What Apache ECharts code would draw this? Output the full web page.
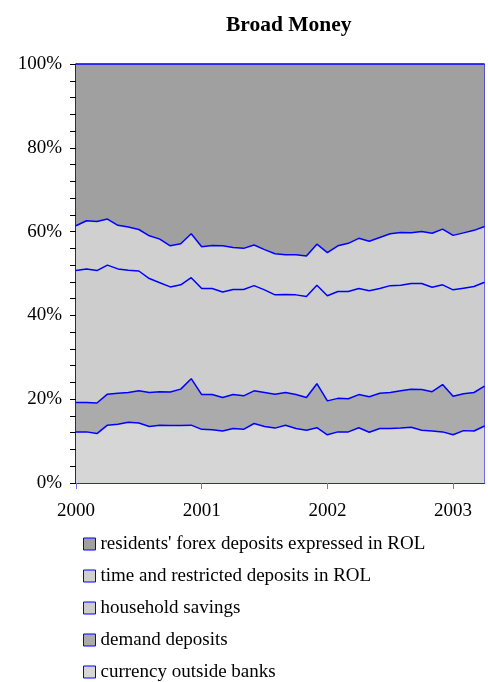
<!DOCTYPE html>
<html>
<head>
<meta charset="utf-8">
<title>Broad Money</title>
<script src="https://cdn.jsdelivr.net/npm/echarts@6/dist/echarts.min.js"></script>
<style>
  html, body { margin: 0; padding: 0; background: #ffffff; }
  #chart { width: 488px; height: 682px; }
</style>
</head>
<body>
<div id="chart"></div>
<script>
// Monthly shares of broad money (%), January 2000 - April 2003
const months = [];
for (let y = 2000; y <= 2003; y++) {
  for (let m = 1; m <= 12; m++) {
    if (y === 2003 && m > 4) break;
    months.push(y + '-' + String(m).padStart(2, '0'));
  }
}
const yearLabels = ['2000', '2001', '2002', '2003'];

const currencyOutsideBanks = [12.2,12.2,11.8,13.8,14.0,14.5,14.3,13.5,13.8,13.7,13.7,13.8,
  12.8,12.7,12.4,13.0,12.8,14.2,13.5,13.1,13.8,13.0,12.6,13.2,
  11.5,12.2,12.2,13.2,12.1,13.0,13.0,13.1,13.3,12.6,12.4,12.2,
  11.5,12.5,12.4,13.6];
const demandDeposits = [7.0,7.0,7.3,7.4,7.4,7.1,7.7,8.1,8.0,8.0,8.7,11.1,
  8.3,8.4,8.0,8.1,8.0,7.8,8.1,8.1,7.8,8.1,7.8,10.5,
  8.1,8.0,7.9,7.9,8.5,8.4,8.6,8.9,9.1,9.7,9.4,11.3,
  9.2,8.8,9.2,9.5];
const householdSavings = [31.5,31.9,31.6,30.8,29.7,29.2,28.6,27.2,26.0,25.1,24.9,24.1,
  25.3,25.3,25.2,25.1,25.4,25.1,24.5,23.7,23.4,23.8,24.1,23.5,
  25.1,25.5,25.6,25.3,25.3,25.0,25.5,25.2,25.2,25.3,24.9,23.8,
  25.4,25.2,25.3,24.8];
const timeDeposits = [10.7,11.5,11.7,11.0,10.4,10.3,9.9,10.2,10.4,9.8,9.8,10.5,
  10.0,10.3,11.0,10.0,9.8,9.7,9.6,9.8,9.5,9.6,9.7,9.8,
  10.3,10.9,11.5,12.0,11.8,12.2,12.4,12.6,12.1,12.4,12.9,13.3,
  13.0,13.2,13.4,13.3];
const forexDeposits = [38.6,37.4,37.6,37.0,38.5,38.9,39.5,41.0,41.8,43.4,42.9,40.5,
  43.6,43.3,43.4,43.8,44.0,43.2,44.3,45.3,45.5,45.5,45.8,43.0,
  45.0,43.4,42.8,41.6,42.3,41.4,40.5,40.2,40.3,40.0,40.4,39.4,
  40.9,40.3,39.7,38.8];

const seriesNames = [
  'currency outside banks',
  'demand deposits',
  'household savings',
  'time and restricted deposits in ROL',
  "residents' forex deposits expressed in ROL"
];
const seriesData = [currencyOutsideBanks, demandDeposits, householdSavings, timeDeposits, forexDeposits];
const fills = ['#d6d6d6', '#ababab', '#cdcdcd', '#d0d0d0', '#a0a0a0'];

const FONT = '"Liberation Serif", "Times New Roman", serif';
const LINE_BLUE = '#0000ff';

const chart = echarts.init(document.getElementById('chart'), null, { renderer: 'canvas' });

chart.setOption({
  animation: false,
  backgroundColor: '#ffffff',
  title: {
    text: 'Broad Money',
    left: 226,
    top: 14,
    padding: 0,
    textStyle: { fontFamily: FONT, fontSize: 21.5, fontWeight: 'bold', color: '#000000' }
  },
  legend: {
    orient: 'vertical',
    left: 83,
    top: 534,
    height: 170,
    padding: 0,
    icon: 'rect',
    itemWidth: 12,
    itemHeight: 12,
    itemGap: 12,
    data: seriesNames.slice().reverse().map(function (n, k) {
      return {
        name: n,
        itemStyle: { color: fills[fills.length - 1 - k], borderColor: LINE_BLUE, borderWidth: 1 }
      };
    }),
    textStyle: { fontFamily: FONT, fontSize: 19, lineHeight: 20, color: '#000000' },
    selectedMode: false
  },
  grid: {
    left: 76,
    right: 3.5,
    top: 64,
    bottom: 199,
    show: true,
    borderColor: LINE_BLUE,
    borderWidth: 1,
    backgroundColor: 'transparent'
  },
  xAxis: {
    type: 'category',
    data: months,
    boundaryGap: false,
    axisLine: { show: true, lineStyle: { color: LINE_BLUE, width: 1.5 } },
    axisTick: {
      show: true,
      length: 6,
      interval: function (i) { return i % 12 === 0; },
      lineStyle: { color: '#6f6fff', width: 1 }
    },
    axisLabel: {
      interval: function (i) { return i % 12 === 0; },
      formatter: function (v) { return yearLabels[Number(v.slice(0, 4)) - 2000]; },
      margin: 19,
      fontFamily: FONT,
      fontSize: 19,
      color: '#000000'
    },
    splitLine: { show: false }
  },
  yAxis: {
    type: 'value',
    min: 0,
    max: 100,
    interval: 20,
    axisLine: { show: true, lineStyle: { color: '#000080', width: 1.5 } },
    axisTick: { show: true, length: 6, lineStyle: { color: '#000000', width: 1 } },
    minorTick: { show: true, splitNumber: 5, length: 6, lineStyle: { color: '#000000', width: 1 } },
    axisLabel: {
      formatter: '{value}%',
      margin: 14,
      fontFamily: FONT,
      fontSize: 19,
      color: '#000000'
    },
    splitLine: { show: false }
  },
  series: seriesNames.map(function (name, i) {
    return {
      name: name,
      type: 'line',
      stack: 'broad',
      data: seriesData[i],
      symbol: 'none',
      z: 10 - i,
      itemStyle: { color: fills[i], borderColor: LINE_BLUE, borderWidth: 1 },
      lineStyle: { color: LINE_BLUE, width: 1.5 },
      areaStyle: { color: fills[i], opacity: 1 },
      emphasis: { disabled: true }
    };
  })
});
</script>
</body>
</html>
